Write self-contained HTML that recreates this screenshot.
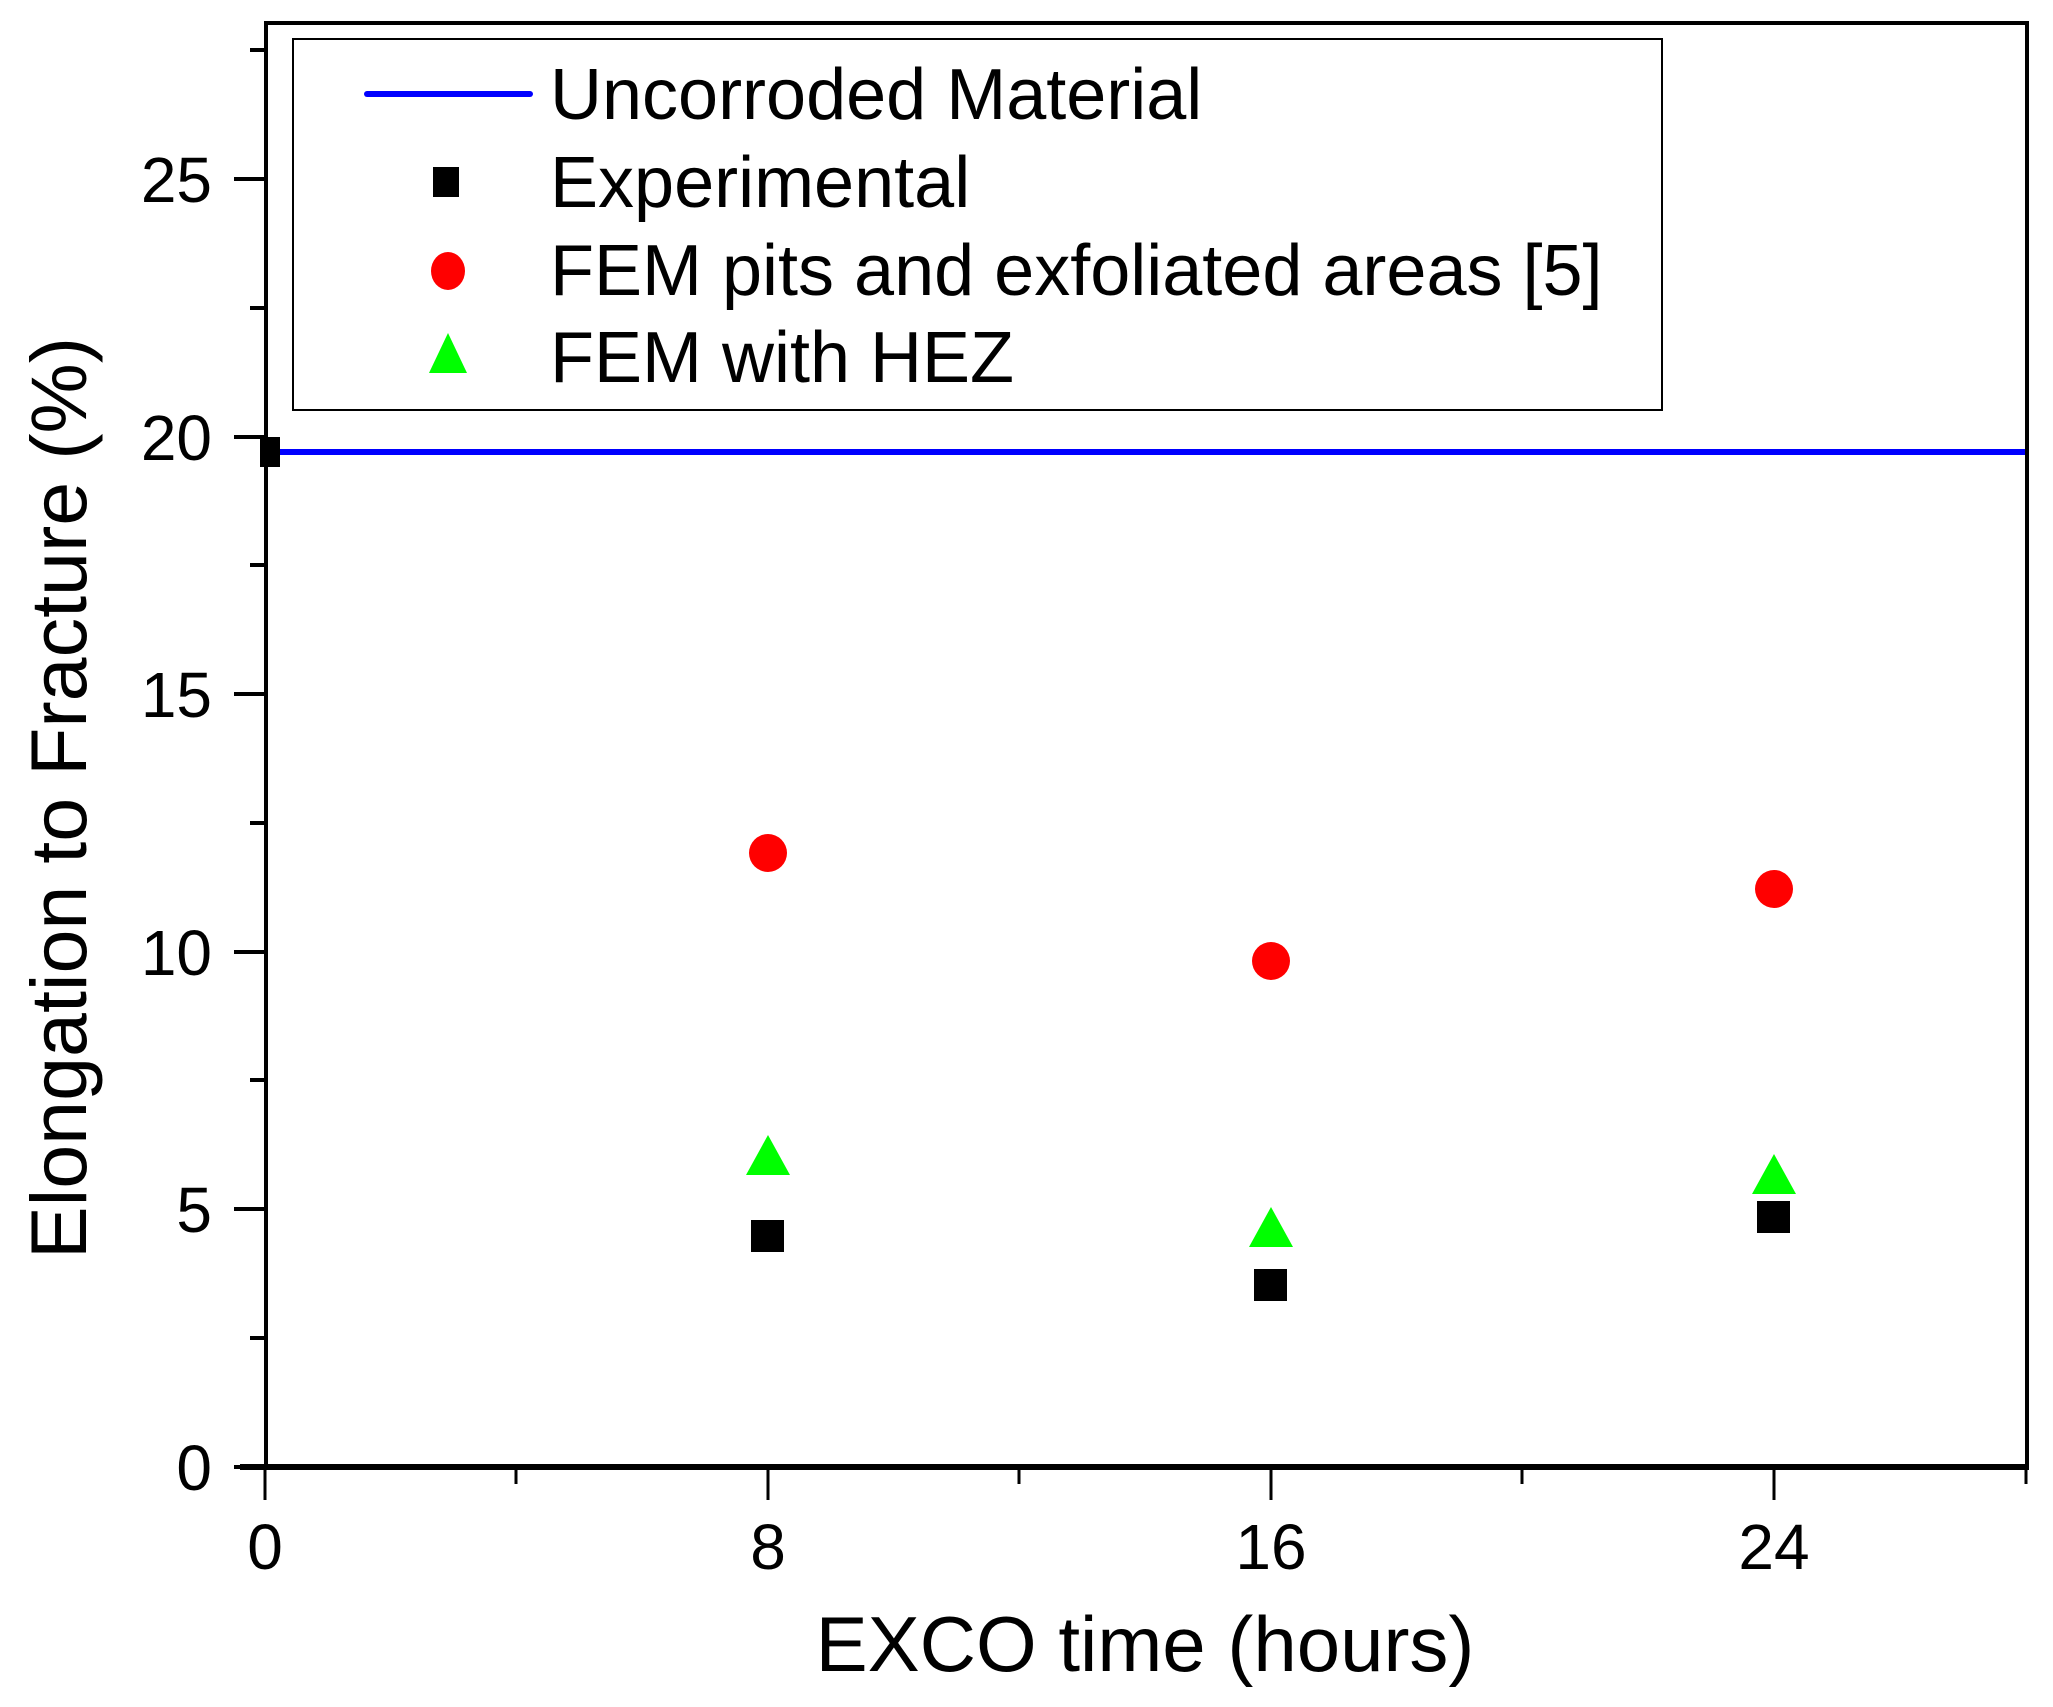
<!DOCTYPE html>
<html><head><style>html,body{margin:0;padding:0;background:#fff}</style></head><body>
<svg width="2053" height="1702" viewBox="0 0 2053 1702" xmlns="http://www.w3.org/2000/svg" font-family="Liberation Sans, Arial, sans-serif">
<rect width="2053" height="1702" fill="#fff"/>
<line x1="266" y1="452" x2="2027" y2="452" stroke="#0000ff" stroke-width="6"/>
<rect x="266" y="23" width="1761" height="1444" fill="none" stroke="#000" stroke-width="4"/>
<line x1="240" y1="1467" x2="2029" y2="1467" stroke="#000" stroke-width="6"/>
<g stroke="#000" stroke-width="4">
<line x1="234" y1="1467" x2="266" y2="1467"/>
<line x1="234" y1="1209" x2="266" y2="1209"/>
<line x1="234" y1="952" x2="266" y2="952"/>
<line x1="234" y1="694" x2="266" y2="694"/>
<line x1="234" y1="437" x2="266" y2="437"/>
<line x1="234" y1="179" x2="266" y2="179"/>
<line x1="250" y1="1338" x2="266" y2="1338"/>
<line x1="250" y1="1080" x2="266" y2="1080"/>
<line x1="250" y1="823" x2="266" y2="823"/>
<line x1="250" y1="565" x2="266" y2="565"/>
<line x1="250" y1="308" x2="266" y2="308"/>
<line x1="250" y1="50" x2="266" y2="50"/>
</g>
<g stroke="#000" stroke-width="3">
<line x1="265" y1="1467" x2="265" y2="1500"/>
<line x1="768" y1="1467" x2="768" y2="1500"/>
<line x1="1271" y1="1467" x2="1271" y2="1500"/>
<line x1="1774" y1="1467" x2="1774" y2="1500"/>
<line x1="516" y1="1467" x2="516" y2="1484"/>
<line x1="1019" y1="1467" x2="1019" y2="1484"/>
<line x1="1522" y1="1467" x2="1522" y2="1484"/>
<line x1="2026" y1="1467" x2="2026" y2="1484"/>
</g>
<g font-size="64" text-anchor="end">
<text x="212" y="1490">0</text>
<text x="212" y="1232">5</text>
<text x="212" y="975">10</text>
<text x="212" y="717">15</text>
<text x="212" y="460">20</text>
<text x="212" y="202">25</text>
</g>
<g font-size="64" text-anchor="middle">
<text x="265" y="1569">0</text>
<text x="768" y="1569">8</text>
<text x="1271" y="1569">16</text>
<text x="1774" y="1569">24</text>
</g>
<text x="1145" y="1671" font-size="78" text-anchor="middle">EXCO time (hours)</text>
<text transform="translate(86,798) rotate(-90)" font-size="79" text-anchor="middle">Elongation to Fracture (%)</text>
<rect x="293" y="39" width="1369" height="371" fill="#fff" stroke="#000" stroke-width="2"/>
<line x1="367" y1="94" x2="530" y2="94" stroke="#0000ff" stroke-width="6" stroke-linecap="round"/>
<rect x="433" y="167" width="26" height="30" fill="#000"/>
<ellipse cx="448" cy="271" rx="17" ry="19" fill="#ff0000"/>
<polygon points="448,333 429,373 467,373" fill="#00ff00"/>
<g font-size="72">
<text x="550" y="119">Uncorroded Material</text>
<text x="550" y="207">Experimental</text>
<text x="550" y="295">FEM pits and exfoliated areas [5]</text>
<text x="550" y="382">FEM with HEZ</text>
</g>
<rect x="260" y="437" width="20" height="30" fill="#000"/>
<g fill="#ff0000">
<circle cx="768" cy="853" r="19"/>
<circle cx="1271" cy="961" r="19"/>
<circle cx="1774" cy="889" r="19"/>
</g>
<g fill="#000">
<rect x="751" y="1220" width="33" height="32"/>
<rect x="1254" y="1269" width="33" height="32"/>
<rect x="1757" y="1201" width="33" height="32"/>
</g>
<g fill="#00ff00">
<polygon points="768,1135 746,1175 790,1175"/>
<polygon points="1271,1207 1249,1247 1293,1247"/>
<polygon points="1774,1154 1752,1194 1796,1194"/>
</g>
</svg>
</body></html>
